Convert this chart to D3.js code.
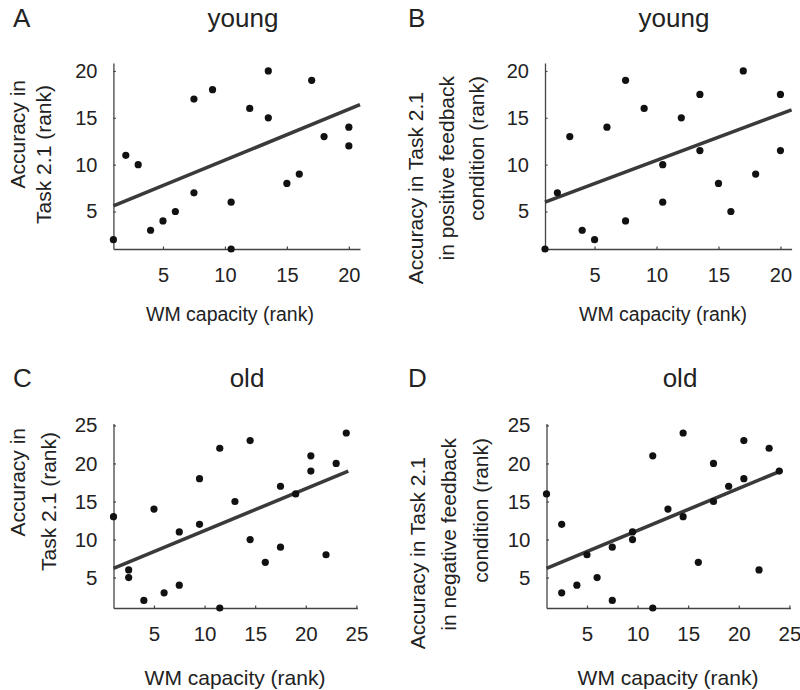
<!DOCTYPE html>
<html><head><meta charset="utf-8">
<script src="https://cdn.jsdelivr.net/npm/d3@7"></script>
<style>body{margin:0;background:#fff;} text{font-family:"Liberation Sans",Arial,sans-serif;fill:#222;}</style>
</head><body><svg id="c" width="800" height="690"></svg>
<script>
// ---- data ----
const xA = [1,2,3,4,5,6,7.5,7.5,9,10.5,10.5,12,13.5,13.5,15,16,17,18,20,20];
const yA = [2,11,10,3,4,5,7,17,18,6,1,16,20,15,8,9,19,13,14,12];
const xB = [1,2,3,4,5,6,7.5,7.5,9,10.5,10.5,12,13.5,13.5,15,16,17,18,20,20];
const yB = [1,7,13,3,2,14,19,4,16,10,6,15,17.5,11.5,8,5,20,9,17.5,11.5];
const xC = [1,2.5,2.5,4,5,6,7.5,7.5,9.5,9.5,11.5,11.5,13,14.5,14.5,16,17.5,17.5,19,20.5,20.5,22,23,24];
const yC = [13,6,5,2,14,3,11,4,18,12,22,1,15,23,10,7,17,9,16,21,19,8,20,24];
const xD = [1,2.5,2.5,4,5,6,7.5,7.5,9.5,9.5,11.5,11.5,13,14.5,14.5,16,17.5,17.5,19,20.5,20.5,22,23,24];
const yD = [16,12,3,4,8,5,9,2,11,10,21,1,14,24,13,7,20,15,17,23,18,6,22,19];
// fitted regression line end points [x0,x1], [y0,y1]
const fitXA = [1,20.9], fitYA = [5.6,16.4];
const fitXB = [1,20.9], fitYB = [6.0,15.85];
const fitXC = [1,24.2], fitYC = [6.2,19.0];
const fitXD = [1,24.3], fitYD = [6.2,19.1];
const ticksYoung = [5,10,15,20];
const ticksOld = [5,10,15,20,25];
const letters = ["A","B","C","D"];
const titles = ["young","young","old","old"];
const xTitle = "WM capacity (rank)";
const yTitleA = ["Accuracy in","Task 2.1 (rank)"];
const yTitleB = ["Accuracy in Task 2.1","in positive feedback","condition (rank)"];
const yTitleC = ["Accuracy in","Task 2.1 (rank)"];
const yTitleD = ["Accuracy in Task 2.1","in negative feedback","condition (rank)"];

const svg = d3.select("#c");
const AX = "#444";

const panels = [
  {L:letters[0], T:titles[0], xs:xA, ys:yA, fx:fitXA, fy:fitYA, ticks:ticksYoung,
   xd:[1,20.9], xr:[113.4,360], yd:[1,20.85], yr:[249,63], tf:20, xtf:19.5, xpad:19,
   letterX:13, titleX:243, titleY:27, xtX:230, xtY:321,
   yt:yTitleA, ytPos:[[25,80],[51,85]]},
  {L:letters[1], T:titles[1], xs:xB, ys:yB, fx:fitXB, fy:fitYB, ticks:ticksYoung,
   xd:[1,20.9], xr:[545,791.6], yd:[1,20.85], yr:[249,63], tf:20, xtf:19.5, xpad:19,
   letterX:408, titleX:674, titleY:27, xtX:663, xtY:321,
   yt:yTitleB, ytPos:[[423,92],[454,76],[484,76]]},
  {L:letters[2], T:titles[2], xs:xC, ys:yC, fx:fitXC, fy:fitYC, ticks:ticksOld,
   xd:[1,25.1], xr:[113.5,357.4], yd:[1,25.25], yr:[608,423.5], tf:20.5, xtf:21, xpad:18,
   letterX:13, titleX:247, titleY:387, xtX:235, xtY:685,
   yt:yTitleC, ytPos:[[25,428],[56,432]]},
  {L:letters[3], T:titles[3], xs:xD, ys:yD, fx:fitXD, fy:fitYD, ticks:ticksOld,
   xd:[1,25.1], xr:[546.5,790.4], yd:[1,25.25], yr:[608,423.5], tf:20.5, xtf:21, xpad:18,
   letterX:408, titleX:680, titleY:387, xtX:668, xtY:685,
   yt:yTitleD, ytPos:[[425,457],[456,438],[488,438]]}
];

panels.forEach(p => {
  const x = d3.scaleLinear().domain(p.xd).range(p.xr);
  const y = d3.scaleLinear().domain(p.yd).range(p.yr);
  const g = svg.append("g");

  const gx = g.append("g").attr("transform", `translate(0,${p.yr[0]})`)
    .call(d3.axisBottom(x).tickValues(p.ticks).tickSizeInner(-2.5).tickSizeOuter(0).tickPadding(p.xpad));
  const gy = g.append("g").attr("transform", `translate(${p.xr[0]},0)`)
    .call(d3.axisLeft(y).tickValues(p.ticks).tickSizeInner(-2.5).tickSizeOuter(0).tickPadding(16));
  [gx, gy].forEach(a => {
    a.attr("font-family", null).attr("font-size", null);
    a.select(".domain").attr("stroke", AX).attr("stroke-width", 1.3);
    a.selectAll(".tick line").attr("stroke", AX).attr("stroke-width", 1.2);
    a.selectAll(".tick text").attr("fill", "#222").style("font-size", p.tf + "px");
  });

  // regression line
  g.append("line")
    .attr("x1", x(p.fx[0])).attr("y1", y(p.fy[0]))
    .attr("x2", x(p.fx[1])).attr("y2", y(p.fy[1]))
    .attr("stroke", "#3a3a3a").attr("stroke-width", 3.6);

  // points
  g.selectAll("circle.pt").data(p.xs.map((v, i) => [v, p.ys[i]])).enter()
    .append("circle").attr("class", "pt")
    .attr("cx", d => x(d[0])).attr("cy", d => y(d[1])).attr("r", 3.6)
    .attr("fill", "#111");

  // letters & titles
  g.append("text").attr("x", p.letterX).attr("y", p.titleY).style("font-size", "26px").text(p.L);
  g.append("text").attr("x", p.titleX).attr("y", p.titleY).attr("text-anchor", "middle")
    .style("font-size", "26px").text(p.T);

  // x title
  g.append("text").attr("x", p.xtX).attr("y", p.xtY).attr("text-anchor", "middle")
    .style("font-size", p.xtf + "px").text(xTitle);

  // y title lines
  p.yt.forEach((t, i) => {
    g.append("text").attr("transform", `translate(${p.ytPos[i][0]},${p.ytPos[i][1]}) rotate(-90)`)
      .attr("text-anchor", "end").style("font-size", "21px").text(t);
  });
});
</script></body></html>
